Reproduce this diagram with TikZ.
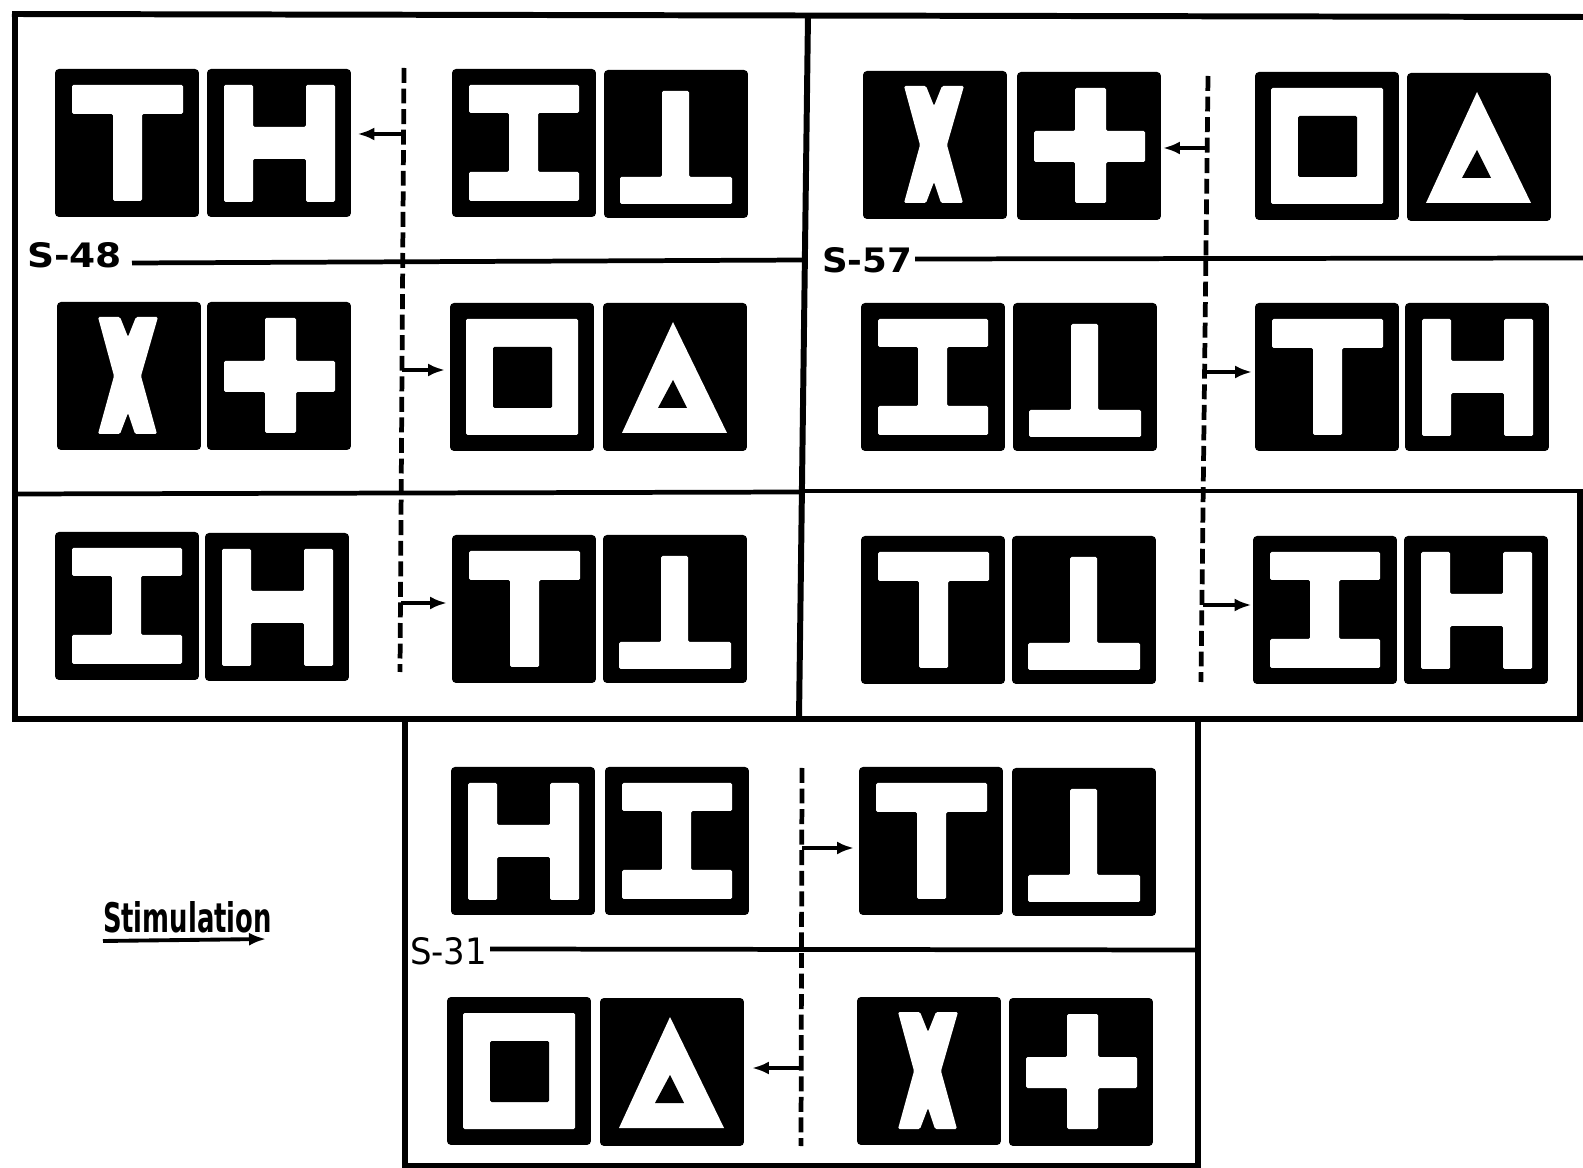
\documentclass[tikz,border=0pt]{standalone}
\usepackage{fontspec}
\usepackage{graphicx}
\usetikzlibrary{arrows.meta}
\newfontfamily\labfont{DejaVu Sans}

\tikzset{
  tile/.style={fill=black, draw=none, rounded corners=0.08cm, minimum width=2.88cm,
    minimum height=2.96cm, inner sep=0pt, outer sep=0pt, anchor=north west},
  glyph/.style={fill=white, draw=none, rounded corners=0.03cm},
  hole/.style={fill=black, draw=none, rounded corners=0.03cm},
  frame/.style={line width=3.4pt},
  rowline/.style={line width=2.7pt},
  divide/.style={line width=2.7pt, dash pattern=on 8.5pt off 3.2pt},
  stim/.style={line width=2.2pt, -{Latex[length=0.34cm,width=0.26cm]}},
  label/.style={anchor=base west, inner sep=0pt, outer sep=0pt},
  gT/.pic={\fill[glyph] (17,16)--(128,16)--(128,45)--(87,45)--(87,132)--(58,132)--(58,45)--(17,45)--cycle;},
  gH/.pic={\fill[glyph] (17,16)--(46,16)--(46,58)--(99,58)--(99,16)--(128,16)--(128,133)--(99,133)--(99,90)--(46,90)--(46,133)--(17,133)--cycle;},
  gI/.pic={\fill[glyph] (17,16)--(127,16)--(127,44)--(86,44)--(86,103)--(127,103)--(127,132)--(17,132)--(17,103)--(57,103)--(57,44)--(17,44)--cycle;},
  gP/.pic={\fill[glyph] (58,21)--(85,21)--(85,107)--(128,107)--(128,134)--(16,134)--(16,107)--(58,107)--cycle;},
  gX/.pic={\fill[glyph] (41,15)--(63,15)--(71,35)--(79,15)--(101,15)--(84,74)--(100,132)--(78,132)--(71,111)--(63,132)--(41,132)--(57,74)--cycle;},
  gC/.pic={\fill[glyph] (58,16)--(89,16)--(89,59)--(128,59)--(128,90)--(89,90)--(89,131)--(58,131)--(58,90)--(17,90)--(17,59)--(58,59)--cycle;},
  gS/.pic={\fill[glyph] (16,16) rectangle (128,132); \fill[hole] (43,44) rectangle (102,105);},
  gA/.pic={\fill[white] (70,19)--(124,130)--(19,130)--cycle; \fill[black] (70,77)--(84,105)--(55,105)--cycle;}
}
\newcommand\mytile[3]{\node[tile] (#1) at (#2) {}; \pic at (#1.north west) {#3};}

\begin{document}
\begin{tikzpicture}[x=0.02cm, y=-0.02cm]
\fill[white] (0,0) rectangle (1583,1168);
\useasboundingbox (0,0) rectangle (1583,1168);

% frames
\draw[frame] (12,14) -- (1583,17);
\draw[frame] (15,12) -- (15,720);
\draw[frame] (12,719) -- (1583,719);
\draw[frame] (808,15) -- (799,719);
\draw[frame] (1580,491) -- (1580,719);
\draw[frame] (405,719) -- (405,1166) -- (1198,1166) -- (1198,719);

% row lines
\draw[rowline] (132,263) -- (806,260);
\draw[rowline] (15,494) -- (803,492);
\draw[rowline] (915,259) -- (1583,258);
\draw[rowline] (803,491) -- (1583,491);
\draw[rowline] (490,949) -- (1198,950);

% dashed dividers
\draw[divide] (404,68) -- (400,672);
\draw[divide] (1208,76) -- (1201,682);
\draw[divide] (802,768) -- (801,1146);

% labels
\node[label] (s48) at (27,268) {\resizebox{1.9cm}{0.5cm}{\labfont\bfseries S-48}};
\node[label] (s57) at (822,273) {\resizebox{1.8cm}{0.5cm}{\labfont\bfseries S-57}};
\node[label] (s31) at (410,965) {\resizebox{1.54cm}{0.54cm}{\labfont S-31}};
\node[label] (stim) at (103,933) {\resizebox{3.38cm}{0.62cm}{\labfont\bfseries Stimulation}};

% left panel tiles
\mytile{L1a}{55,69}{gT}
\mytile{L1b}{207,69}{gH}
\mytile{L1c}{452,69}{gI}
\mytile{L1d}{604,70}{gP}
\mytile{L2a}{57,302}{gX}
\mytile{L2b}{207,302}{gC}
\mytile{L2c}{450,303}{gS}
\mytile{L2d}{603,303}{gA}
\mytile{L3a}{55,532}{gI}
\mytile{L3b}{205,533}{gH}
\mytile{L3c}{452,535}{gT}
\mytile{L3d}{603,535}{gP}

% right panel tiles
\mytile{R1a}{863,71}{gX}
\mytile{R1b}{1017,72}{gC}
\mytile{R1c}{1255,72}{gS}
\mytile{R1d}{1407,73}{gA}
\mytile{R2a}{861,303}{gI}
\mytile{R2b}{1013,303}{gP}
\mytile{R2c}{1255,303}{gT}
\mytile{R2d}{1405,303}{gH}
\mytile{R3a}{861,536}{gT}
\mytile{R3b}{1012,536}{gP}
\mytile{R3c}{1253,536}{gI}
\mytile{R3d}{1404,536}{gH}

% bottom panel tiles
\mytile{B1a}{451,767}{gH}
\mytile{B1b}{605,767}{gI}
\mytile{B1c}{859,767}{gT}
\mytile{B1d}{1012,768}{gP}
\mytile{B2a}{447,997}{gS}
\mytile{B2b}{600,998}{gA}
\mytile{B2c}{857,997}{gX}
\mytile{B2d}{1009,998}{gC}

% stimulation arrows
\coordinate (dL1) at (403,134);
\coordinate (dL2) at (402,370);
\coordinate (dL3) at (401,603);
\coordinate (dR1) at (1207,148);
\coordinate (dR2) at (1205,372);
\coordinate (dR3) at (1203,605);
\coordinate (dB1) at (802,848);
\coordinate (dB2) at (802,1068);
\draw[stim, shorten >=0.13cm] (dL1) -- (dL1 -| L1b.east);
\draw[stim, shorten >=0.1cm] (dL2) -- (dL2 -| L2c.west);
\draw[stim, shorten >=0.1cm] (dL3) -- (dL3 -| L3c.west);
\draw[stim, shorten >=0.04cm] (dR1) -- (dR1 -| R1b.east);
\draw[stim, shorten >=0.06cm] (dR2) -- (dR2 -| R2c.west);
\draw[stim, shorten >=0.03cm] (dR3) -- (dR3 -| R3c.west);
\draw[stim, shorten >=0.1cm] (dB1) -- (dB1 -| B1c.west);
\draw[stim, shorten >=0.16cm] (dB2) -- (dB2 -| B2b.east);

% legend arrow
\coordinate (legA) at (103,941);
\coordinate (legB) at (266,939);
\draw[stim] (legA) -- (legB);
\end{tikzpicture}
\end{document}
